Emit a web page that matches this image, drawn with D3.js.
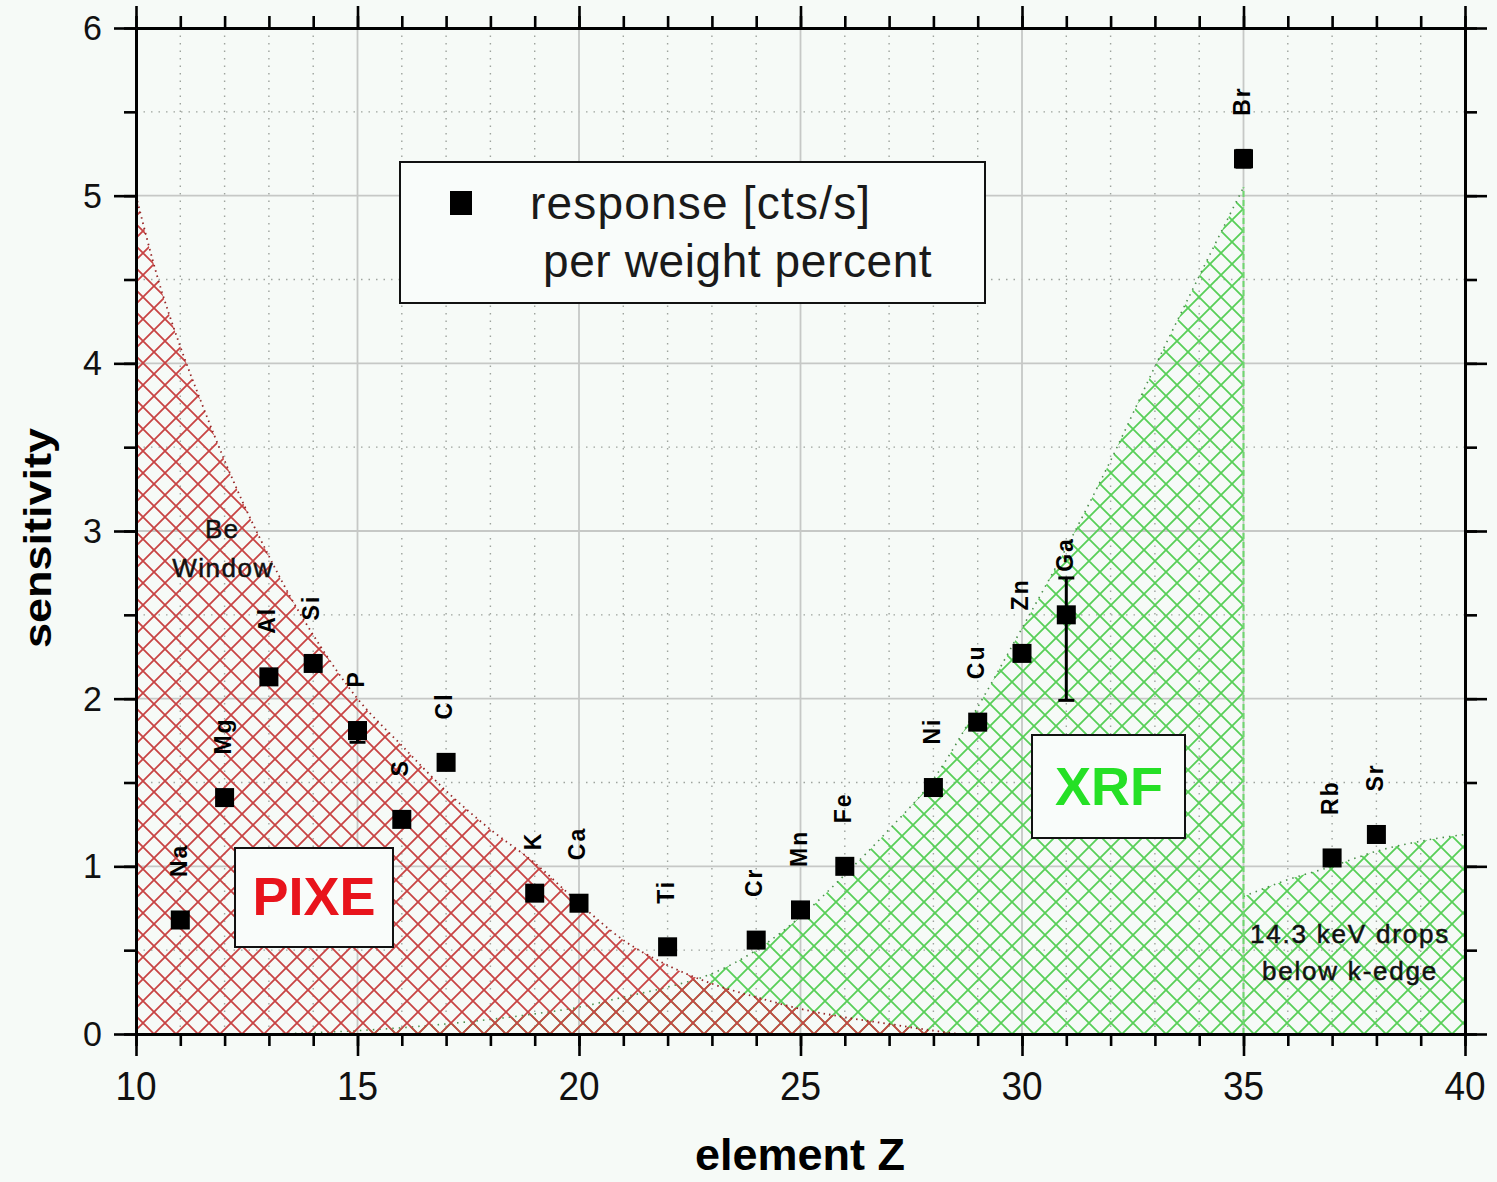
<!DOCTYPE html>
<html>
<head>
<meta charset="utf-8">
<script src="https://cdn.jsdelivr.net/npm/d3@7"></script>
<style>
  body { margin: 0; background: #f6faf7; }
  svg { display: block; }
</style>
</head>
<body>
<svg id="chart" width="1497" height="1182"></svg>
<script>
// measured points
const elements = ["Na", "Mg", "Al", "Si", "P", "S", "Cl", "K", "Ca", "Ti", "Cr", "Mn", "Fe", "Ni", "Cu", "Zn", "Ga", "Br", "Rb", "Sr"];
const atomicZ = [11, 12, 13, 14, 15, 16, 17, 19, 20, 22, 24, 25, 26, 28, 29, 30, 31, 35, 37, 38];
const response = [0.68, 1.41, 2.13, 2.21, 1.81, 1.28, 1.62, 0.84, 0.78, 0.52, 0.56, 0.74, 1.0, 1.47, 1.86, 2.27, 2.5, 5.22, 1.05, 1.19];
const errLow = [0, 0.02, 0, 0, 0.07, 0, 0, 0, 0, 0, 0, 0, 0.02, 0, 0, 0, 0.51, 0.05, 0, 0];
const errHigh = [0, 0.02, 0, 0, 0.04, 0, 0, 0, 0, 0, 0, 0, 0.02, 0, 0, 0, 0.22, 0.05, 0, 0];

// PIXE sensitivity envelope (Be window)
const pixeZ = [10, 10.5, 11, 11.5, 12, 12.5, 13, 13.5, 14, 15, 16, 17, 18, 19, 20, 21, 22, 23, 24, 25, 26, 27, 28, 28.6];
const pixeEdge = [5.0, 4.5, 4.1, 3.75, 3.42, 3.12, 2.85, 2.6, 2.38, 2.0, 1.72, 1.45, 1.22, 1.02, 0.78, 0.56, 0.41, 0.3, 0.22, 0.15, 0.1, 0.06, 0.02, 0];

// XRF sensitivity envelope, below and above the 14.3 keV k-edge drop
const xrfZ = [13, 15, 17, 19, 20, 21, 22, 23, 24, 25, 26, 27, 28, 29, 30, 31, 32, 33, 34, 35];
const xrfEdge = [0, 0.02, 0.06, 0.12, 0.16, 0.22, 0.28, 0.36, 0.5, 0.7, 0.95, 1.22, 1.52, 1.95, 2.42, 2.9, 3.42, 3.98, 4.52, 5.05];
const xrfHighZ = [35, 36, 37, 38, 39, 40];
const xrfHighEdge = [0.82, 0.92, 1.0, 1.09, 1.15, 1.19];

const xMajor = [10, 15, 20, 25, 30, 35, 40];
const yMajor = [0, 1, 2, 3, 4, 5, 6];

const svg = d3.select("#chart");
const font = "'Liberation Sans', Arial, Helvetica, sans-serif";
const bg = "#f6faf7";

const x = d3.scaleLinear().domain([10, 40]).range([136, 1465]);
const y = d3.scaleLinear().domain([0, 6]).range([1034, 28]);

// hatch patterns
const defs = svg.append("defs");
function hatch(id, color) {
  const p = defs.append("pattern")
    .attr("id", id)
    .attr("patternUnits", "userSpaceOnUse")
    .attr("width", 22)
    .attr("height", 22);
  p.append("path")
    .attr("d", "M-1,-1L23,23M23,-1L-1,23")
    .attr("stroke", color)
    .attr("stroke-width", 1.8)
    .attr("fill", "none");
}
hatch("hatchRed", "#c84444");
hatch("hatchGreen", "#58cf58");

svg.append("rect").attr("width", 1497).attr("height", 1182).attr("fill", bg);

// grid
const minorX = d3.range(11, 40).filter((d) => d % 5 !== 0);
const minorY = d3.range(0.5, 6, 1);
const grid = svg.append("g");
grid.selectAll(".gx")
  .data(minorX)
  .enter()
  .append("line")
  .attr("x1", (d) => x(d)).attr("x2", (d) => x(d))
  .attr("y1", y(6)).attr("y2", y(0))
  .attr("stroke", "#9ea49e").attr("stroke-width", 1.4)
  .attr("stroke-dasharray", "1.5,6");
grid.selectAll(".gy")
  .data(minorY)
  .enter()
  .append("line")
  .attr("x1", x(10)).attr("x2", x(40))
  .attr("y1", (d) => y(d)).attr("y2", (d) => y(d))
  .attr("stroke", "#9ea49e").attr("stroke-width", 1.4)
  .attr("stroke-dasharray", "1.5,6");
grid.selectAll(".mx")
  .data(xMajor.slice(1, -1))
  .enter()
  .append("line")
  .attr("x1", (d) => x(d)).attr("x2", (d) => x(d))
  .attr("y1", y(6)).attr("y2", y(0))
  .attr("stroke", "#c6c8c6").attr("stroke-width", 1.8);
grid.selectAll(".my")
  .data(yMajor.slice(1, -1))
  .enter()
  .append("line")
  .attr("x1", x(10)).attr("x2", x(40))
  .attr("y1", (d) => y(d)).attr("y2", (d) => y(d))
  .attr("stroke", "#c6c8c6").attr("stroke-width", 1.8);

// hatched regions
const area = d3.area()
  .x((d) => x(d[0]))
  .y0(y(0))
  .y1((d) => y(d[1]))
  .curve(d3.curveMonotoneX);
const edge = d3.line()
  .x((d) => x(d[0]))
  .y((d) => y(d[1]))
  .curve(d3.curveMonotoneX);

const xrfLow = d3.zip(xrfZ, xrfEdge);
const xrfHigh = d3.zip(xrfHighZ, xrfHighEdge);
const pixe = d3.zip(pixeZ, pixeEdge);

[xrfLow, xrfHigh].forEach((pts) => {
  svg.append("path").attr("d", area(pts)).attr("fill", "url(#hatchGreen)");
  svg.append("path").attr("d", edge(pts))
    .attr("fill", "none").attr("stroke", "#4c8f4c")
    .attr("stroke-width", 1.6).attr("stroke-dasharray", "1.5,5");
});
svg.append("line")
  .attr("x1", x(35)).attr("x2", x(35))
  .attr("y1", y(0)).attr("y2", y(xrfEdge[xrfEdge.length - 1]))
  .attr("stroke", "#6fd86f").attr("stroke-width", 2)
  .attr("stroke-dasharray", "6,3");

svg.append("path").attr("d", area(pixe)).attr("fill", "url(#hatchRed)");
svg.append("path").attr("d", edge(pixe))
  .attr("fill", "none").attr("stroke", "#962626")
  .attr("stroke-width", 1.8).attr("stroke-dasharray", "1.5,4");

// axes
function styleAxis(g) {
  g.selectAll("path").attr("stroke", "#000").attr("stroke-width", 3);
  g.selectAll("line").attr("stroke", "#000").attr("stroke-width", 2.6);
}
const minorTicksX = d3.range(10, 41);
const minorTicksY = d3.range(0, 6.01, 0.5);
[
  [d3.axisBottom, `translate(0,${y(0)})`, x, minorTicksX, xMajor],
  [d3.axisTop, `translate(0,${y(6)})`, x, minorTicksX, xMajor],
  [d3.axisLeft, `translate(${x(10)},0)`, y, minorTicksY, yMajor],
  [d3.axisRight, `translate(${x(40)},0)`, y, minorTicksY, yMajor],
].forEach(([axis, tr, sc, minor, major]) => {
  svg.append("g").attr("transform", tr)
    .call(axis(sc).tickValues(minor).tickSize(12).tickSizeOuter(0).tickFormat(""))
    .call(styleAxis);
  svg.append("g").attr("transform", tr)
    .call(axis(sc).tickValues(major).tickSize(22).tickSizeOuter(0).tickFormat(""))
    .call(styleAxis);
});

// stretched text helper
function label(txt, px, py, o) {
  const t = svg.append("text")
    .attr("transform", `translate(${px},${py}) rotate(${o.rotate || 0}) scale(${o.sx || 1},${o.sy || 1})`)
    .attr("font-family", font)
    .attr("font-size", o.size)
    .attr("font-weight", o.weight || "normal")
    .attr("fill", o.fill || "#000")
    .attr("text-anchor", o.anchor || "start")
    .text(txt);
  if (o.dy) t.attr("dy", o.dy);
  if (o.spacing) t.attr("letter-spacing", o.spacing);
  return t;
}

xMajor.forEach((v) => label(v, x(v), 1100, { size: 37, sy: 1.12, anchor: "middle", fill: "#111" }));
yMajor.forEach((v) => label(v, 102, y(v) + 12, { size: 34, sy: 1.04, anchor: "end", fill: "#111" }));

label("element Z", 800, 1170, { size: 45, weight: "bold", anchor: "middle" });
label("sensitivity", 51, 538, { size: 45, weight: "bold", rotate: -90, sy: 0.85, anchor: "middle" });

// annotation boxes
function box(x0, y0, w, h) {
  svg.append("rect")
    .attr("x", x0).attr("y", y0).attr("width", w).attr("height", h)
    .attr("fill", "#f9fcfa").attr("stroke", "#111").attr("stroke-width", 2);
}
box(400, 162, 585, 141);
svg.append("rect").attr("x", 450).attr("y", 191).attr("width", 22).attr("height", 24).attr("fill", "#000");
label("response [cts/s]", 530, 219, { size: 46, spacing: 1.2, fill: "#1a1a1a" });
label("per weight percent", 543, 277, { size: 46, spacing: 0.6, fill: "#1a1a1a" });

box(235, 848, 158, 99);
label("PIXE", 314, 915, { size: 54, weight: "bold", anchor: "middle", fill: "#e8141c" });
box(1032, 735, 153, 103);
label("XRF", 1109, 805, { size: 54, weight: "bold", anchor: "middle", fill: "#25e025" });

const note = { size: 26, anchor: "middle", fill: "#111" };
label("Be", 222, 538, { ...note, spacing: 1 }).attr("stroke", "#111").attr("stroke-width", 0.5);
label("Window", 223, 577, { ...note, spacing: 1.5 }).attr("stroke", "#111").attr("stroke-width", 0.5);
label("14.3 keV drops", 1350, 943, { ...note, spacing: 1.8 }).attr("stroke", "#111").attr("stroke-width", 0.5);
label("below k-edge", 1350, 980, { ...note, spacing: 1.8 }).attr("stroke", "#111").attr("stroke-width", 0.5);

// error bars
const points = elements.map((el, i) => ({
  el, z: atomicZ[i], v: response[i], lo: response[i] - errLow[i], hi: response[i] + errHigh[i],
}));
const bars = svg.append("g").attr("stroke", "#000").attr("stroke-width", 3);
points.filter((d) => d.hi > d.lo).forEach((d) => {
  bars.append("line").attr("x1", x(d.z)).attr("x2", x(d.z)).attr("y1", y(d.lo)).attr("y2", y(d.hi));
  [d.lo, d.hi].forEach((e) => {
    bars.append("line").attr("x1", x(d.z) - 8).attr("x2", x(d.z) + 8).attr("y1", y(e)).attr("y2", y(e));
  });
});

// squares
svg.selectAll(".pt")
  .data(points)
  .enter()
  .append("rect")
  .attr("x", (d) => x(d.z) - 9.5)
  .attr("y", (d) => y(d.v) - 9.5)
  .attr("width", 19)
  .attr("height", 19)
  .attr("fill", "#000");

// element names
points.forEach((d) => {
  label(d.el, x(d.z) - 2, y(d.v) - 43, { size: 23, weight: "bold", rotate: -90, dy: "0.36em", spacing: 2 });
});
</script>
</body>
</html>
